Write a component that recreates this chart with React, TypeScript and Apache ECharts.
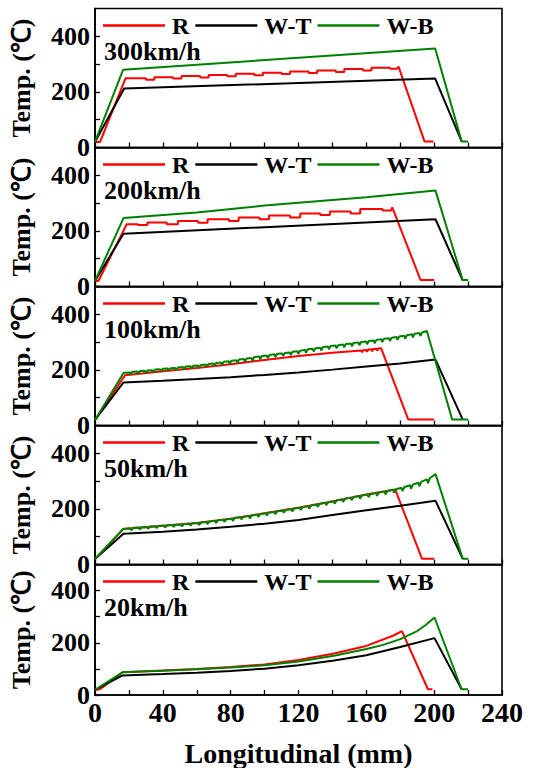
import React, { useEffect, useRef } from "react";
import * as echarts from "echarts";

// ---------- data (x: Longitudinal mm, y: Temp ℃) ----------
const speeds = ["300km/h", "200km/h", "100km/h", "50km/h", "20km/h"];
const seriesNames = ["R", "W-T", "W-B"];
const seriesColors = ["#FF0000", "#000000", "#008000"];
const xTickLabels = [0, 40, 80, 120, 160, 200, 240];
const yTickLabels = [0, 200, 400];

// 300 km/h
const r300 = [[0,20],[3,20],[18,249],[30,249],[30,244],[35,244],[35,253],[46,253],[46,248],[51,248],[51,257],[62,257],[62,252],[67,252],[67,261],[78,261],[78,256],[83,256],[83,265],[94,265],[94,260],[99,260],[99,269],[110,269],[110,264],[115,264],[115,273],[126,273],[126,268],[131,268],[131,277],[142,277],[142,272],[147,272],[147,282],[158,282],[158,277],[163,277],[163,287],[174,287],[174,283],[178,283],[179,291],[194.3,22],[199.6,22]];
const wt300 = [[0,20],[17.2,212],[200.6,248],[216.2,22]];
const wb300 = [[0,20],[16.6,280],[200.6,356],[216.2,22],[220,22]];

// 200 km/h
const r200 = [[0,20],[2,20],[18.7,224],[25.3,224],[25.3,221],[30.9,221],[30.9,230],[42.3,230],[42.3,224],[48.9,224],[48.9,236],[60.8,236],[60.8,229],[66.4,229],[66.4,242],[79,242],[79,236],[84.7,236],[84.7,248],[97,248],[97,242],[102.6,242],[102.6,255],[115,255],[115,248],[121,248],[121,263],[132.8,263],[132.8,257],[138.5,257],[138.5,270],[150.8,270],[150.8,263],[156.4,263],[156.4,279],[169.6,279],[169.6,273],[174.5,273],[175.3,285],[192,23],[200,23]];
const wt200 = [[0,20],[16.8,190],[200.8,242],[216.8,22]];
const wb200 = [[0,20],[16.8,246],[60,266],[100,291],[160,321],[200.8,345],[216.8,23],[220,23]];

// 100 km/h
const r100 = [[0,20],[17.7,181],[40,195],[60,207],[80,220],[100,236],[120,250],[140,262],[157,270],[157.5,263],[158,271],[160,272],[160.5,265],[161,273],[163,274],[163.5,267],[164,275],[166,276],[166.5,269],[167,277],[168.7,278],[184.7,22],[199.8,22]];
const wt100 = [[0,20],[16.8,155],[40,161],[60,167],[80,174],[100,182],[120,191],[140,201],[160,212],[180,223],[200.8,237],[216.8,22]];
const wb100 = [[0,20],[16.8,189],
  [17.4,190],[20.4,191],[20.9,182],[21.9,193],[24.9,194],[25.4,185],[26.4,196],[29.4,197],[29.9,188],
  [30.9,198],[33.9,199],[34.4,190],[35.4,201],[38.4,202],[38.9,193],[39.9,204],[42.9,205],[43.4,196],
  [44.4,206],[47.4,207],[47.9,198],[48.9,209],[51.9,210],[52.4,201],[53.4,212],[56.4,213],[56.9,204],
  [57.9,215],[60.9,216],[61.4,207],[62.4,218],[65.4,219],[65.9,210],[66.9,221],[69.9,223],[70.4,213],
  [71.4,225],[74.4,227],[74.9,217],[75.9,229],[78.9,231],[79.4,221],[80.4,233],[83.4,235],[83.9,225],
  [84.9,237],[87.9,239],[88.4,229],[89.4,241],[92.4,243],[92.9,233],[93.9,246],[96.9,248],[97.4,238],
  [98.4,250],[101.4,252],[101.9,242],[102.9,254],[105.9,256],[106.4,246],[107.4,258],[110.4,259],[110.9,250],
  [111.9,261],[114.9,263],[115.4,253],[116.4,265],[119.4,267],[119.9,257],[120.9,269],[123.9,272],[124.4,261],
  [125.4,274],[128.4,276],[128.9,266],[129.9,278],[132.9,280],[133.4,270],[134.4,282],[137.4,284],[137.9,274],
  [138.9,286],[141.9,288],[142.4,278],[143.4,289],[146.4,291],[146.9,281],[147.9,293],[150.9,295],[151.4,285],
  [152.4,297],[155.4,299],[155.9,289],[156.9,300],[159.9,302],[160.4,292],[161.4,304],[164.4,306],[164.9,296],
  [165.9,308],[168.9,310],[169.4,300],[170.4,312],[173.4,314],[173.9,304],[174.9,316],[177.9,318],[178.4,308],
  [179.4,320],[182.4,323],[182.9,312],[183.9,325],[186.9,328],[187.4,317],[188.4,330],[191.4,333],[191.9,322],
  [192.9,335],[195.7,340],[210.6,22],[220,22]];

// 50 km/h
const r50 = [[0,20],[16.8,128],[40,139],[60,149],[80,165],[100,184],[120,204],[140,227],[160,252],[172,264],[177,270],[192.8,21],[200,21]];
const wt50 = [[0,20],[16.8,111],[40,118],[60,126],[80,136],[100,147],[120,160],[140,178],[160,195],[180,211],[200.8,229],[216.8,21]];
const wb50 = [[0,20],[16.8,129],
  [17.5,129],[20.8,130],[21.3,123],[22.5,132],[25.8,133],[26.3,126],[27.5,134],[30.8,135],[31.3,128],
  [32.5,137],[35.8,138],[36.3,131],[37.5,139],[40.8,140],[41.3,133],[42.5,141],[45.8,142],[46.3,135],
  [47.5,143],[50.8,144],[51.3,137],[52.5,146],[55.8,147],[56.3,140],[57.5,148],[60.8,149],[61.3,142],
  [62.5,151],[65.8,153],[66.3,145],[67.5,155],[70.8,157],[71.3,149],[72.5,159],[75.8,161],[76.3,153],
  [77.5,163],[80.8,165],[81.3,157],[82.5,168],[85.8,170],[86.3,162],[87.5,172],[90.8,174],[91.3,166],
  [92.5,177],[95.8,179],[96.3,171],[97.5,182],[100.8,184],[101.3,176],[102.5,187],[105.8,189],[106.3,181],
  [107.5,192],[110.8,194],[111.3,186],[112.5,197],[115.8,199],[116.3,191],[117.5,202],[120.8,204],[121.3,196],
  [122.5,207],[125.8,210],[126.3,201],[127.5,213],[130.8,216],[131.3,207],[132.5,219],[135.8,222],[136.3,213],
  [137.5,225],[140.8,228],[141.3,219],[142.5,231],[145.8,234],[146.3,225],[147.5,237],[150.8,240],[151.3,231],
  [152.5,243],[155.8,246],[156.3,237],[157.5,249],[160.8,252],[161.3,242],[162.5,254],[165.8,257],[166.3,247],
  [167.5,259],[170.8,263],[171.3,252],[172.5,265],[175.8,269],[176.3,258],[177.5,271],[180.8,276],[181.3,264],
  [182.5,279],[185.8,285],[186.3,272],[187.5,288],[190.8,294],[191.3,281],[192.5,298],[195.8,306],[196.3,292],
  [197.5,311],[200.8,325],[216.8,21],[220,21]];

// 20 km/h
const r20 = [[0,20],[3,22],[16.2,87],[40,94],[60,100],[80,107],[100,117],[120,134],[141,159],[160,188],[176,228],[181,245],[196.3,22],[199,22]];
const wt20 = [[0,20],[16.2,75],[40,80],[60,85],[80,92],[100,101],[120,114],[141,132],[160,152],[180,184],[200.2,218],[216.2,22]];
const wb20 = [[0,20],[16.2,87],[40,93],[60,99],[80,105],[100,114],[120,128],[141,150],[160,176],[170,192],[180,214],[190,245],[195,268],[200.2,297],[216.2,22],[220,22]];

const panels = [
  [r300, wt300, wb300],
  [r200, wt200, wb200],
  [r100, wt100, wb100],
  [r50, wt50, wb50],
  [r20, wt20, wb20],
];

// ---------- layout ----------
const W = 541;
const H = 768;
const GRID_LEFT = 93;
const GRID_RIGHT = 39;
const GRID_TOP = 8.5;
const PANEL_H = 139;
const FONT = "Liberation Serif, Times New Roman, serif";

export default function App() {
  const ref = useRef<HTMLDivElement>(null);

  useEffect(() => {
    if (!ref.current) return;
    const chart = echarts.init(ref.current, null, { renderer: "svg" });

    const grids: any[] = [];
    const xAxes: any[] = [];
    const yAxes: any[] = [];
    const legends: any[] = [];
    const series: any[] = [];
    const graphics: any[] = [];

    panels.forEach((panel, i) => {
      const top = GRID_TOP + i * PANEL_H;
      const last = i === panels.length - 1;
      grids.push({
        left: GRID_LEFT,
        right: GRID_RIGHT,
        top,
        height: PANEL_H,
        show: true,
        borderColor: "#000",
        borderWidth: 1.6,
        backgroundColor: "transparent",
      });
      xAxes.push({
        type: "value",
        gridIndex: i,
        min: 0,
        max: 240,
        interval: 20,
        axisLine: { show: true, onZero: false, lineStyle: { color: "#000", width: 1.6 } },
        axisTick: { show: true, inside: true, length: 5, lineStyle: { color: "#000", width: 1.3 } },
        splitLine: { show: false },
        axisLabel: {
          show: last,
          margin: 3,
          showMaxLabel: true,
          showMinLabel: true,
          color: "#000",
          fontFamily: FONT,
          fontWeight: "bold",
          fontSize: 28,
          formatter: (v: number) => (xTickLabels.includes(v) ? String(v) : ""),
        },
        name: last ? "Longitudinal (mm)" : "",
        nameLocation: "middle",
        nameGap: 44,
        nameTextStyle: { color: "#000", fontFamily: FONT, fontWeight: "bold", fontSize: 28 },
      });
      yAxes.push({
        type: "value",
        gridIndex: i,
        min: 0,
        max: 500,
        interval: 100,
        axisLine: { show: true, lineStyle: { color: "#000", width: 1.6 } },
        axisTick: { show: true, inside: true, length: 5, lineStyle: { color: "#000", width: 1.3 } },
        splitLine: { show: false },
        axisLabel: {
          margin: 5,
          color: "#000",
          fontFamily: FONT,
          fontWeight: "bold",
          fontSize: 26,
          lineHeight: 22,
          showMaxLabel: false,
          formatter: (v: number) => (yTickLabels.includes(v) ? String(v) : ""),
        },
        name: "Temp. (℃)",
        nameLocation: "middle",
        nameRotate: 90,
        nameGap: 62,
        nameTextStyle: { color: "#000", fontFamily: FONT, fontWeight: "bold", fontSize: 26, lineHeight: 24 },
      });
      legends.push({
        data: seriesNames,
        left: 103,
        top: top + 5,
        padding: 0,
        icon: "rect",
        itemWidth: 62,
        itemHeight: 2.5,
        itemGap: 6,
        selectedMode: false,
        textStyle: {
          color: "#000",
          fontFamily: FONT,
          fontWeight: "bold",
          fontSize: 24,
          padding: [0, 0, 0, 2],
        },
      });
      graphics.push({
        type: "text",
        left: 104,
        top: top + 30,
        style: {
          text: speeds[i],
          fill: "#000",
          font: `bold 26px ${FONT}`,
        },
      });
      panel.forEach((data, k) => {
        series.push({
          name: seriesNames[k],
          type: "line",
          xAxisIndex: i,
          yAxisIndex: i,
          data,
          symbol: "none",
          showSymbol: false,
          color: seriesColors[k],
          lineStyle: { color: seriesColors[k], width: 2 },
          itemStyle: { color: seriesColors[k] },
          z: 2 + k,
        });
      });
    });

    chart.setOption({
      animation: false,
      backgroundColor: "#fff",
      grid: grids,
      xAxis: xAxes,
      yAxis: yAxes,
      legend: legends,
      series,
      graphic: graphics,
    });

    return () => chart.dispose();
  }, []);

  return (
    <div
      ref={ref}
      style={{ position: "absolute", left: 0, top: 0, width: W, height: H }}
    />
  );
}
